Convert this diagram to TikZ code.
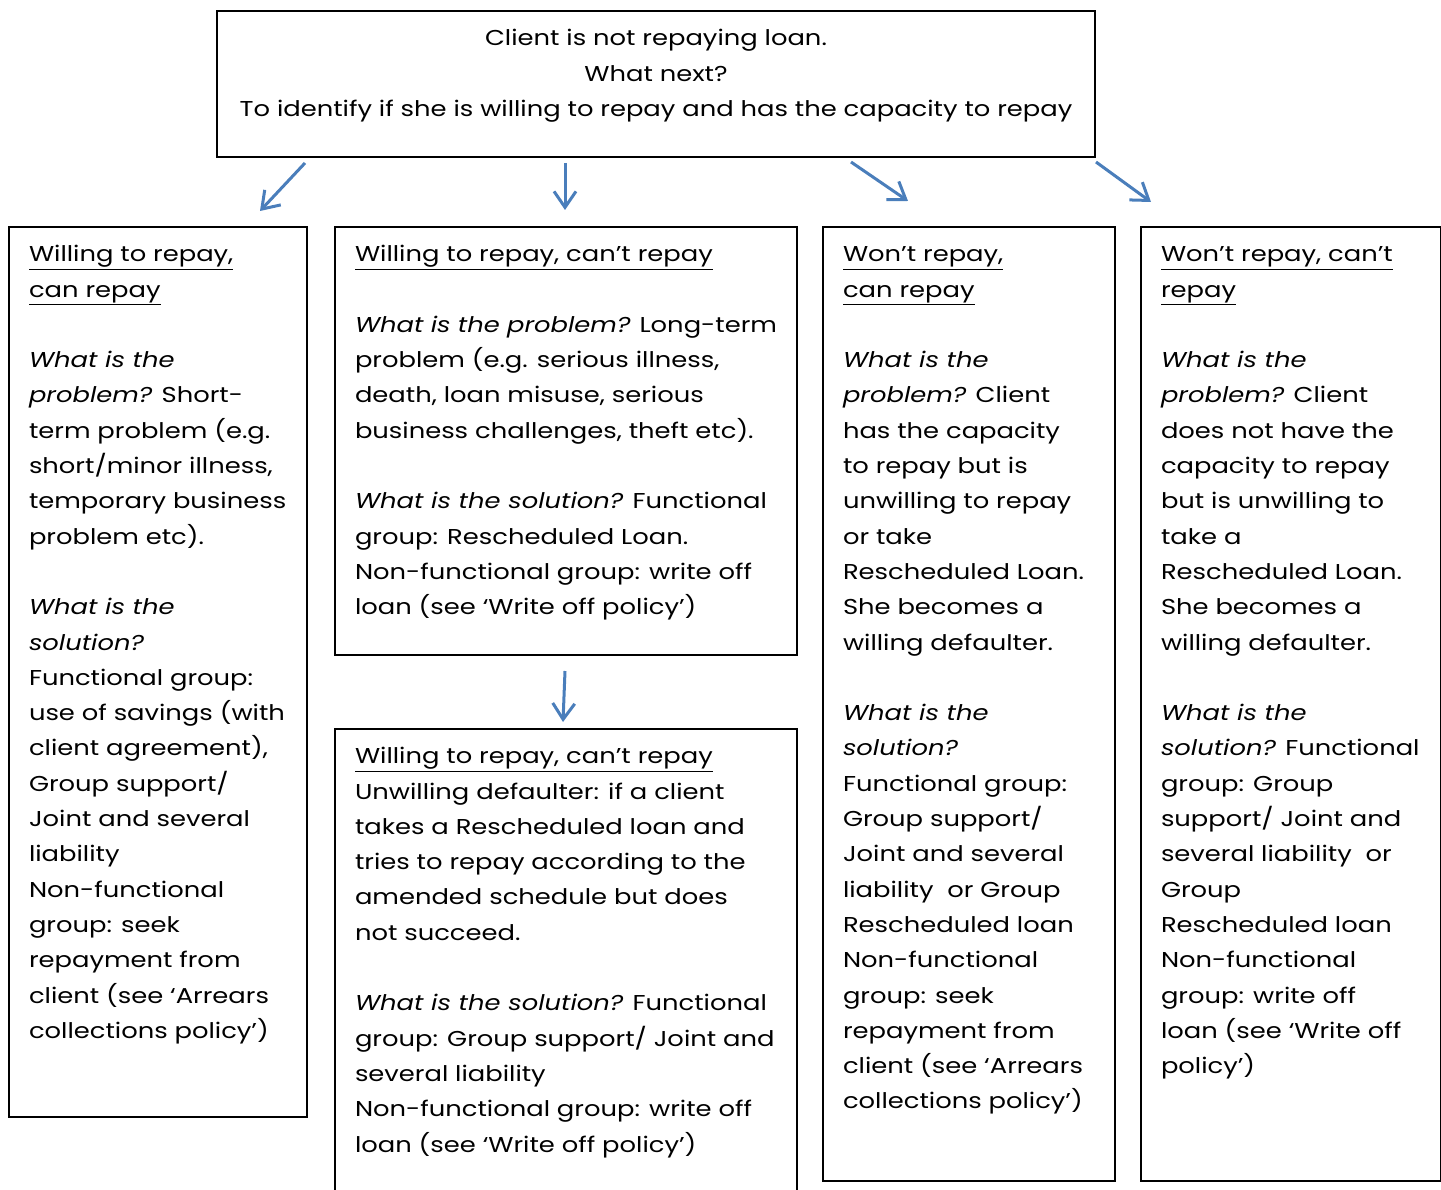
\documentclass[tikz,border=0pt]{standalone}
\usepackage{fontspec}
\setmainfont[FakeStretch=1.2]{Poppins}
\usetikzlibrary{positioning,arrows.meta}
\definecolor{arrowblue}{HTML}{4A7EBB}
\newcommand{\casehead}[1]{\underline{#1}}
\newcommand{\boxtext}[3]{\parbox[c][#2][t]{#1}{#3}}
\newcommand{\gap}{\\[35.3pt]}
\tikzset{
  case/.style   = {draw=black, line width=2pt, anchor=north west, inner xsep=20pt,
                   inner ysep=10pt, font=\fontsize{21.5}{35.3}\selectfont},
  branch/.style = {-{Straight Barb[length=16pt,width=22pt]}, draw=arrowblue, line width=3pt},
}

\begin{document}
\begin{tikzpicture}[x=1pt, y=-1pt]
  \path[use as bounding box, clip] (0,0) rectangle (1441,1190);

  \node[case] (issue) at (216,10) {\boxtext{838pt}{126pt}{\centering\strut
    Client is not repaying loan.\\
    What next?\\
    To identify if she is willing to repay and has the capacity to repay}};

  % the four cases
  \node[case] (willcan) at (8,226) {\boxtext{258pt}{870pt}{\raggedright\strut
    \casehead{Willing to repay,}\\
    \casehead{can repay}\gap
    \emph{What is the}\\
    \emph{problem?} Short-\\
    term problem (e.g.\\
    short/minor illness,\\
    temporary business\\
    problem etc).\gap
    \emph{What is the}\\
    \emph{solution?}\\
    Functional group:\\
    use of savings (with\\
    client agreement),\\
    Group support/\\
    Joint and several\\
    liability\\
    Non-functional\\
    group: seek\\
    repayment from\\
    client (see ‘Arrears\\
    collections policy’)}};

  \node[case] (willcant) at (334,226) {\boxtext{422pt}{408pt}{\raggedright\strut
    \casehead{Willing to repay, can’t repay}\gap
    \emph{What is the problem?} Long-term\\
    problem (e.g. serious illness,\\
    death, loan misuse, serious\\
    business challenges, theft etc).\gap
    \emph{What is the solution?} Functional\\
    group: Rescheduled Loan.\\
    Non-functional group: write off\\
    loan (see ‘Write off policy’)}};

  \node[case] (defaulter) at (334,728) {\boxtext{422pt}{452pt}{\raggedright\strut
    \casehead{Willing to repay, can’t repay}\\
    Unwilling defaulter: if a client\\
    takes a Rescheduled loan and\\
    tries to repay according to the\\
    amended schedule but does\\
    not succeed.\gap
    \emph{What is the solution?} Functional\\
    group: Group support/ Joint and\\
    several liability\\
    Non-functional group: write off\\
    loan (see ‘Write off policy’)}};

  \node[case] (wontcan) at (822,226) {\boxtext{252pt}{934pt}{\raggedright\strut
    \casehead{Won’t repay,}\\
    \casehead{can repay}\gap
    \emph{What is the}\\
    \emph{problem?} Client\\
    has the capacity\\
    to repay but is\\
    unwilling to repay\\
    or take\\
    Rescheduled Loan.\\
    She becomes a\\
    willing defaulter.\gap
    \emph{What is the}\\
    \emph{solution?}\\
    Functional group:\\
    Group support/\\
    Joint and several\\
    liability\ \ or Group\\
    Rescheduled loan\\
    Non-functional\\
    group: seek\\
    repayment from\\
    client (see ‘Arrears\\
    collections policy’)}};

  \node[case] (wontcant) at (1140,226) {\boxtext{260pt}{934pt}{\raggedright\strut
    \casehead{Won’t repay, can’t}\\
    \casehead{repay}\gap
    \emph{What is the}\\
    \emph{problem?} Client\\
    does not have the\\
    capacity to repay\\
    but is unwilling to\\
    take a\\
    Rescheduled Loan.\\
    She becomes a\\
    willing defaulter.\gap
    \emph{What is the}\\
    \emph{solution?} Functional\\
    group: Group\\
    support/ Joint and\\
    several liability\ \ or\\
    Group\\
    Rescheduled loan\\
    Non-functional\\
    group: write off\\
    loan (see ‘Write off\\
    policy’)}};

  % arrows
  \draw[branch] ([xshift=89pt,yshift=-5pt]issue.south west) -- ([xshift=252pt,yshift=15pt]willcan.north west);
  \draw[branch] ([xshift=349pt,yshift=-5pt]issue.south west) -- ([xshift=231pt,yshift=16pt]willcant.north west);
  \draw[branch] ([xshift=635pt,yshift=-4pt]issue.south west) -- ([xshift=86pt,yshift=25pt]wontcan.north west);
  \draw[branch] ([yshift=-4pt]issue.south east) -- ([xshift=11pt,yshift=24pt]wontcant.north west);
  \draw[branch] ([xshift=231pt,yshift=-15pt]willcant.south west) -- ([xshift=229pt,yshift=6pt]defaulter.north west);
\end{tikzpicture}
\end{document}
